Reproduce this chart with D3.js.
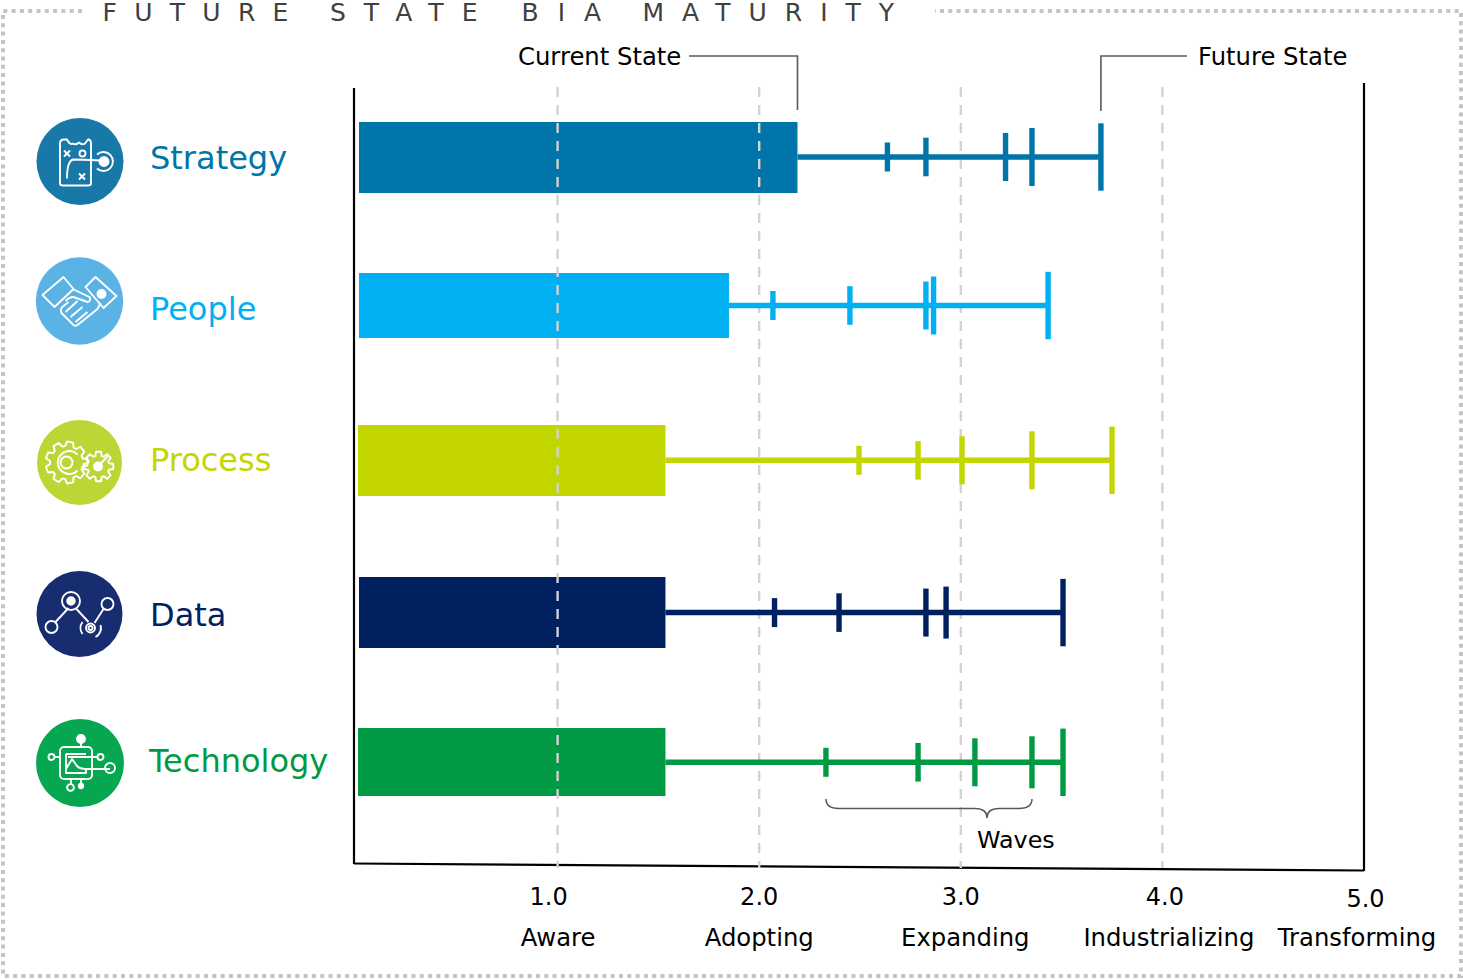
<!DOCTYPE html>
<html>
<head>
<meta charset="utf-8">
<title>Future State BIA Maturity</title>
<script src="https://cdn.jsdelivr.net/npm/d3@7/dist/d3.min.js"></script>
<style>
  html, body { margin: 0; padding: 0; background: #fff; }
  svg { display: block; }
  text { font-family: "DejaVu Sans", Verdana, sans-serif; }
</style>
</head>
<body>
<svg id="chart" width="1463" height="979"></svg>
<script>
// Maturity data, one entry per dimension
const categories = ["Strategy", "People", "Process", "Data", "Technology"];
const currentState = [2.19, 1.85, 1.535, 1.535, 1.535];
const wave1 = [2.636, 2.068, 2.495, 2.076, 2.331];
const wave2 = [2.827, 2.45, 2.788, 2.396, 2.788];
const wave3 = [3.222, 2.827, 3.006, 2.827, 3.07];
const wave4 = [3.353, 2.865, 3.353, 2.927, 3.353];
const futureState = [3.695, 3.433, 3.75, 3.507, 3.507];
const tickValues = [1, 2, 3, 4, 5];
const stageNames = ["Aware", "Adopting", "Expanding", "Industrializing", "Transforming"];
const headingWords = ["FUTURE", "STATE", "BIA", "MATURITY"];

// Colours per dimension
const textColors = ["#0075a9", "#00b0f0", "#c4d600", "#002060", "#009a44"];
const iconColors = ["#1878a8", "#5ab3e4", "#bdd636", "#172d6f", "#07a650"];

const svg = d3.select("#chart");
const x = d3.scaleLinear().domain([0, 5]).range([356, 1364]);
const rowY = d3.scaleOrdinal(categories, [157, 305.5, 460.3, 612.6, 762.3]);
const barExtent = d3.scaleOrdinal(categories, [[122, 193], [273, 338], [425, 496], [577, 648], [728, 796]]);
const barLeft = d3.scaleOrdinal(categories, [359, 359, 358, 359, 358]);
const iconPos = d3.scaleOrdinal(categories, [[80, 161.5, 43.5], [79.5, 301, 43.7], [79.5, 462.5, 42.5], [79.5, 614, 43], [80, 763, 44]]);
const labelPos = d3.scaleOrdinal(categories, [[150, 168.5], [150, 320], [150, 471], [150, 626], [149, 772]]);

// Dotted frame, broken at the top for the heading
svg.append("path")
  .attr("d", "M82,11 H3 V976 H1461 V11 H935")
  .attr("fill", "none").attr("stroke", "#c4c4c4")
  .attr("stroke-width", 4).attr("stroke-dasharray", "4 4.3");

// Heading, one widely tracked run per word
const headingX = [102.5, 330, 521.5, 642.5];
const headingTrack = [17.3, 18, 19, 18];
svg.selectAll("text.heading").data(headingWords).join("text")
  .attr("class", "heading")
  .attr("x", (d, i) => headingX[i]).attr("y", 20.5)
  .attr("font-size", 25).attr("fill", "#404040")
  .attr("letter-spacing", (d, i) => headingTrack[i] + "px")
  .text(d => d);

// Bars
const rows = categories.map((name, i) => ({
  name, i, current: currentState[i],
  waves: [wave1[i], wave2[i], wave3[i], wave4[i]], future: futureState[i]
}));

svg.selectAll("rect.bar").data(rows).join("rect")
  .attr("class", "bar")
  .attr("x", d => barLeft(d.name))
  .attr("y", d => barExtent(d.name)[0])
  .attr("width", d => x(d.current) - barLeft(d.name))
  .attr("height", d => barExtent(d.name)[1] - barExtent(d.name)[0])
  .attr("fill", d => textColors[d.i]);

// Frame of the plot: two uprights and a slightly tilted base
const frame = [
  [[x(0) - 2, 88], [x(0) - 2, 864]],
  [[x(5), 83], [x(5), 871]],
  [[x(0) - 2, 863.5], [x(5), 870.5]]
];
svg.selectAll("path.frame").data(frame).join("path")
  .attr("class", "frame")
  .attr("d", d3.line())
  .attr("fill", "none").attr("stroke", "#000").attr("stroke-width", 2.2);

// Dashed guides at each maturity level
svg.selectAll("line.guide").data(tickValues.slice(0, 4)).join("line")
  .attr("class", "guide")
  .attr("x1", d => x(d)).attr("x2", d => x(d))
  .attr("y1", 87).attr("y2", 868)
  .attr("stroke", "#d2d2d2").attr("stroke-width", 2.4)
  .attr("stroke-dasharray", "10 8");

// Stems from the current state to the future state
svg.selectAll("line.stem").data(rows).join("line")
  .attr("class", "stem")
  .attr("x1", d => x(d.current)).attr("x2", d => x(d.future))
  .attr("y1", d => rowY(d.name)).attr("y2", d => rowY(d.name))
  .attr("stroke", d => textColors[d.i]).attr("stroke-width", 5.5);

// Wave ticks grow with each wave; the last tick marks the future state
const tickReach = [14.5, 19.3, 24, 29, 33.7];
const shortFourth = new Set(["Data", "Technology"]);
svg.selectAll("g.ticks").data(rows).join("g")
  .attr("class", "ticks")
  .each(function (d) {
    const reach = (j) => (j === 3 && shortFourth.has(d.name)) ? 26 : tickReach[j];
    d3.select(this).selectAll("line")
      .data([...d.waves, d.future])
      .join("line")
      .attr("x1", v => x(v)).attr("x2", v => x(v))
      .attr("y1", (v, j) => rowY(d.name) - reach(j))
      .attr("y2", (v, j) => rowY(d.name) + reach(j))
      .attr("stroke", textColors[d.i]).attr("stroke-width", 5.4);
  });

// Dimension names
svg.selectAll("text.cat").data(rows).join("text")
  .attr("class", "cat")
  .attr("x", d => labelPos(d.name)[0]).attr("y", d => labelPos(d.name)[1])
  .attr("font-size", 32)
  .attr("fill", d => textColors[d.i])
  .text(d => d.name);

// Line-art icons, each drawn around the centre of its disc
const iconLines = {
  Strategy: g => {
    g.append("path").attr("d", "M-20,-18 Q-20,-22 -16,-22 L-13,-22 Q-10,-16 -7,-18 Q-4,-16 -1,-19 Q2,-16 5,-18 L8,-22 Q11,-22 11,-18 L11,22 Q11,24 8,24 L-17,24 Q-20,24 -20,22 Z");
    g.append("path").attr("d", "M-16,-11 L-10,-5 M-10,-11 L-16,-5 M-1,12 L5,18 M5,12 L-1,18");
    g.append("circle").attr("cx", 2.5).attr("cy", -8).attr("r", 3);
    g.append("path").attr("d", "M-13,17 Q-13,0 -7,-2 Q0,-2 20,-1");
    g.append("path").attr("d", "M17,-7 A9.5,9.5 0 1 1 17,7");
    g.append("circle").attr("cx", 24).attr("cy", 0).attr("r", 4.5).attr("fill", "#fff");
  },
  People: g => {
    g.append("path").attr("d", "M-37,-6 L-16,-24 L-6,-12 L-25,6 Z");
    g.append("path").attr("d", "M6,-14 L16,-24 L37,-5 L24,7 Z");
    g.append("circle").attr("cx", 22).attr("cy", -7).attr("r", 4).attr("fill", "#fff");
    g.append("path").attr("d", "M-7,-12 L10,-4 Q12,0 8,1 L-6,-4 Q-10,-4 -14,0");
    g.append("path").attr("d", "M21,2 L18,8 L-2,24 Q-5,26 -8,22 L-18,12 Q-20,8 -16,5 L-11,1");
    g.append("path").attr("d", "M-14,11 L-2,0 M-9,16 L3,6 M-4,21 L8,11");
  },
  Process: g => {
    g.append("path").attr("d", gearPath(-13, 0, 21, 16.5, 9));
    g.append("path").attr("d", "M-2,-8 A11.5,11.5 0 1 0 -2,8");
    g.append("circle").attr("cx", -13).attr("cy", 0).attr("r", 6);
    g.append("path").attr("d", gearPath(19, 4, 15, 11, 8));
    g.append("circle").attr("cx", 18.5).attr("cy", 4).attr("r", 4).attr("fill", "#fff");
    g.append("path").attr("d", "M18.5,4 L28,-6");
  },
  Data: g => {
    g.append("circle").attr("cx", -8.5).attr("cy", -13).attr("r", 9);
    g.append("circle").attr("cx", -8.5).attr("cy", -13).attr("r", 3.8).attr("fill", "#fff");
    g.append("circle").attr("cx", -28).attr("cy", 13).attr("r", 6);
    g.append("circle").attr("cx", 28).attr("cy", -10).attr("r", 6);
    g.append("path").attr("d", "M-24,8 L-11,-6 M-3,-5 L9,8 M24,-5 L15,9");
    g.append("circle").attr("cx", 11).attr("cy", 14).attr("r", 2);
    g.append("circle").attr("cx", 11).attr("cy", 14).attr("r", 4.5);
    g.append("path").attr("d", "M3,20 A10,10 0 0 1 3,8 M16,23 A10,10 0 0 0 21,11");
  },
  Technology: g => {
    g.append("rect").attr("x", -20).attr("y", -16).attr("width", 32).attr("height", 32).attr("rx", 4);
    g.append("path").attr("d", "M-14,-9 H6 M6,6 V10 H-14 V-9");
    g.append("path").attr("d", "M-14,6 L-8,-4 L-3,3 Q0,6 6,6 H30 M-12,-6 H17");
    g.append("circle").attr("cx", 1).attr("cy", -24).attr("r", 4).attr("fill", "#fff");
    g.append("path").attr("d", "M1,-20 V-16 M-25,-6 H-20 M-9,16 V21 M1,16 V20");
    g.append("circle").attr("cx", -28.5).attr("cy", -6).attr("r", 3);
    g.append("circle").attr("cx", 20.5).attr("cy", -6).attr("r", 3);
    g.append("circle").attr("cx", 30).attr("cy", 5).attr("r", 5);
    g.append("circle").attr("cx", -9.5).attr("cy", 24.5).attr("r", 3.4);
    g.append("circle").attr("cx", 1).attr("cy", 23).attr("r", 2.2).attr("fill", "#fff");
  }
};

// Outline of a cog with the given tooth count
function gearPath(cx, cy, outer, inner, teeth) {
  const step = Math.PI * 2 / teeth;
  const pts = [];
  for (let k = 0; k < teeth; k++) {
    const a = k * step;
    [[-0.30, inner], [-0.17, outer], [0.17, outer], [0.30, inner]].forEach(([f, r]) => {
      const t = a + f * step * 1.25;
      pts.push([cx + r * Math.cos(t), cy + r * Math.sin(t)]);
    });
  }
  return d3.line().curve(d3.curveLinearClosed)(pts);
}

rows.forEach(d => {
  const [cx, cy, r] = iconPos(d.name);
  const g = svg.append("g").attr("transform", `translate(${cx},${cy})`);
  g.append("circle").attr("r", r).attr("fill", iconColors[d.i]);
  const art = g.append("g").attr("fill", "none").attr("stroke", "#fff")
    .attr("stroke-width", 1.9).attr("stroke-linejoin", "round");
  iconLines[d.name](art);
});

// Callouts for the first row's two end points
const callout = "#595959";
const strategyCurrent = x(currentState[0]);
const strategyFuture = x(futureState[0]);
svg.append("path")
  .attr("d", `M689,56 H${strategyCurrent} V110`)
  .attr("fill", "none").attr("stroke", callout).attr("stroke-width", 1.6);
svg.append("path")
  .attr("d", `M1187,56 H${strategyFuture} V111`)
  .attr("fill", "none").attr("stroke", callout).attr("stroke-width", 1.6);
svg.append("text").attr("x", 518).attr("y", 65).attr("font-size", 24.3).attr("fill", "#000").text("Current State");
svg.append("text").attr("x", 1198).attr("y", 65).attr("font-size", 24.3).attr("fill", "#000").text("Future State");

// Brace spanning the four technology waves
const braceStart = x(wave1[4]);
const braceEnd = x(wave4[4]);
const braceTip = x(3.13);
svg.append("path")
  .attr("d", `M${braceStart},799 Q${braceStart},808.5 ${braceStart + 13},808.5 H${braceTip - 12} Q${braceTip},808.5 ${braceTip},818 Q${braceTip},808.5 ${braceTip + 12},808.5 H${braceEnd - 13} Q${braceEnd},808.5 ${braceEnd},799`)
  .attr("fill", "none").attr("stroke", callout).attr("stroke-width", 1.5);
svg.append("text").attr("x", 977).attr("y", 848).attr("font-size", 23.8).attr("fill", "#000").text("Waves");

// Level numbers and stage names below the plot
const numberShift = [-9.5, -0.5, -0.5, 2, 1];
const numberDrop = [0, 0, 0, 0, 2];
const numberAxis = svg.append("g").attr("transform", "translate(0,905)")
  .call(d3.axisBottom(x).tickValues(tickValues).tickSize(0).tickPadding(0).tickFormat(d3.format(".1f")));
numberAxis.select(".domain").remove();
numberAxis.selectAll("text")
  .attr("font-family", null).attr("font-size", 24).attr("fill", "#000")
  .attr("dy", 0).attr("y", (d, i) => numberDrop[i])
  .attr("x", (d, i) => numberShift[i]);

const stageShift = [0, -0.5, 4, 6, -7.5];
const stageAxis = svg.append("g").attr("transform", "translate(0,946)")
  .call(d3.axisBottom(x).tickValues(tickValues).tickSize(0).tickPadding(0).tickFormat((d, i) => stageNames[i]));
stageAxis.select(".domain").remove();
stageAxis.selectAll("text")
  .attr("font-family", null).attr("font-size", 24.3).attr("fill", "#000")
  .attr("dy", 0).attr("y", 0)
  .attr("x", (d, i) => stageShift[i]);
</script>
</body>
</html>
